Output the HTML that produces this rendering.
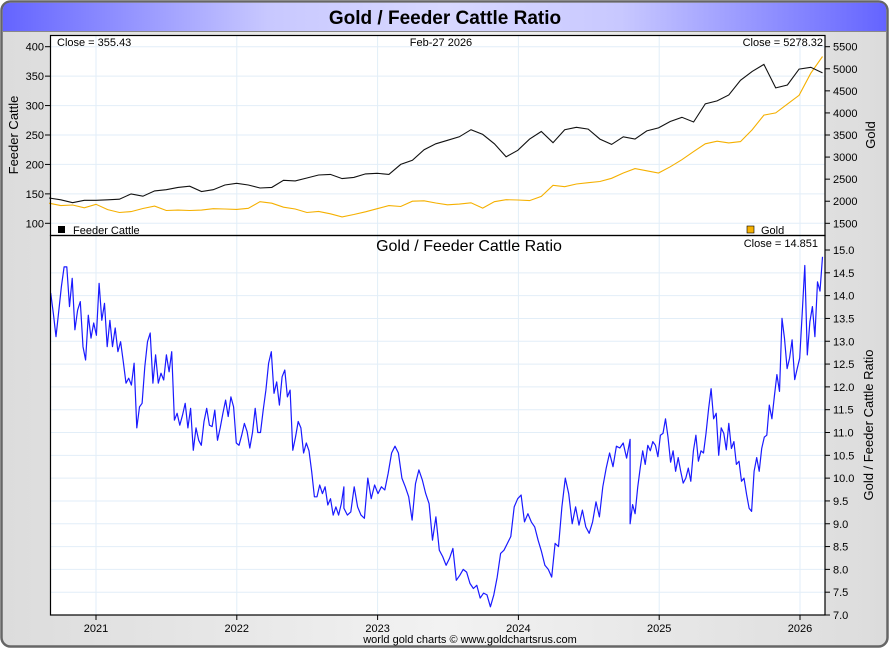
<!DOCTYPE html>
<html><head><meta charset="utf-8">
<style>
html,body{margin:0;padding:0;background:#fff;}
svg{display:block;font-family:"Liberation Sans",sans-serif;}
</style></head>
<body>
<svg id="chart" width="890" height="650" viewBox="0 0 890 650" xmlns="http://www.w3.org/2000/svg">
<defs>
<linearGradient id="bg" x1="0" x2="1" y1="0" y2="0">
<stop offset="0" stop-color="#dcdcdc"/><stop offset="0.5" stop-color="#f2f2f2"/><stop offset="1" stop-color="#dcdcdc"/>
</linearGradient>
<linearGradient id="tb" x1="0" x2="1" y1="0" y2="0">
<stop offset="0" stop-color="#6464ff"/><stop offset="0.3" stop-color="#c8c8ff"/><stop offset="0.5" stop-color="#d8d8ff"/><stop offset="0.7" stop-color="#c8c8ff"/><stop offset="1" stop-color="#6464ff"/>
</linearGradient>
</defs>
<rect x="1.5" y="1.5" width="886" height="645" rx="9" fill="url(#bg)" stroke="#666" stroke-width="2.5"/>
<path d="M2.8,31 L2.8,11 Q2.8,2.8 11,2.8 L879,2.8 Q886.2,2.8 886.2,11 L886.2,31 Z" fill="url(#tb)"/>
<line x1="2" y1="31.5" x2="887" y2="31.5" stroke="#888" stroke-width="1"/>
<text x="445" y="24" text-anchor="middle" font-size="19" font-weight="bold" fill="#000">Gold / Feeder Cattle Ratio</text>
<rect x="50.5" y="35.5" width="774.5" height="579.5" fill="#fff"/>
<g id="grid"></g>
<g id="series"></g>
<rect x="50.5" y="35.5" width="774.5" height="200" fill="none" stroke="#000" stroke-width="1.2"/>
<rect x="50.5" y="235.5" width="774.5" height="379.5" fill="none" stroke="#000" stroke-width="1.2"/>
<g id="axes"></g>
<text x="57" y="46" font-size="11">Close = 355.43</text>
<text x="441" y="46" font-size="11" text-anchor="middle">Feb-27  2026</text>
<text x="823" y="46" font-size="11" text-anchor="end">Close = 5278.32</text>
<rect x="58" y="226" width="7" height="7" fill="#000"/>
<text x="73" y="234" font-size="11">Feeder Cattle</text>
<rect x="747" y="226" width="7" height="7" fill="#f5b000" stroke="#000" stroke-width="0.6"/>
<text x="761" y="234" font-size="11">Gold</text>
<text x="469" y="251" font-size="16" text-anchor="middle">Gold  /  Feeder Cattle Ratio</text>
<text x="818" y="247" font-size="11" text-anchor="end">Close = 14.851</text>
<text transform="translate(18,135) rotate(-90)" font-size="13" text-anchor="middle">Feeder Cattle</text>
<text transform="translate(875,135) rotate(-90)" font-size="13" text-anchor="middle">Gold</text>
<text transform="translate(873,425) rotate(-90)" font-size="13" text-anchor="middle">Gold / Feeder Cattle Ratio</text>
<text x="470" y="643" font-size="11" text-anchor="middle" fill="#000">world gold charts © www.goldchartsrus.com</text>
</svg>
<script>
// monthly values starting Sep 2020 (last point = Feb-27 2026)
const cattleValues=[143,140,135,139,139,140,141,150,146,155,157,161,163,154,157,165,168,165,160,161,173,172,177,182,183,176,178,184,185,183,200,207,225,235,241,247,259,251,235,213,224,243,256,237,259,263,260,243,234,247,243,257,262,273,280,272,303,308,318,343,358,370,330,335,362,365,355.43];
const goldValues=[1955,1900,1915,1850,1930,1810,1745,1765,1835,1890,1790,1800,1790,1800,1830,1825,1815,1840,1990,1955,1865,1825,1745,1770,1715,1645,1700,1760,1830,1900,1880,2000,2010,1960,1920,1935,1965,1845,1990,2035,2028,2015,2110,2360,2330,2390,2420,2446,2520,2640,2740,2690,2640,2780,2940,3125,3300,3360,3320,3350,3620,3950,4000,4200,4400,4900,5278.32];
const topStartYear=2020.667, topEndYear=2026.16;
// ratio segments (evenly spaced within each date range)
const ratioSeg1Range=[2020.678,2022.761];
const ratioSeg1=[14.06,13.6,13.1,13.65,14.2,14.63,14.63,13.76,14.38,13.25,13.68,13.87,12.88,12.59,13.57,13.07,13.4,13.13,14.27,13.46,13.83,12.88,13.46,12.88,13.29,12.77,12.99,12.55,12.08,12.19,12.04,12.52,11.1,11.56,11.64,12.44,12.99,13.18,12.08,12.7,12.08,12.3,12.15,12.7,12.33,12.77,11.27,11.42,11.16,11.38,11.64,11.1,11.53,10.61,11.1,10.83,10.72,11.24,11.53,11.16,11.13,11.49,10.83,11.1,11.42,11.71,11.35,11.78,11.56,10.77,10.72,10.94,11.2,11.02,10.66,11.0,11.53,11.0,11.0,11.49,11.93,12.52,12.77,11.86,12.11,11.6,12.22,12.37,11.78,11.93,10.61,10.9,11.24,11.1,10.55,10.77,10.6,10.14,9.59,9.59,9.85,9.66,9.81,9.41,9.55,9.19,9.37,9.19,9.44,9.81];
const ratioSeg2Range=[2022.761,2024.793];
const ratioSeg2=[9.34,9.19,9.26,9.81,9.37,9.19,9.12,10.0,9.55,9.85,9.66,9.81,9.74,10.11,10.55,10.7,10.55,10.0,9.81,9.59,9.08,9.88,10.18,9.96,9.66,9.44,8.64,9.15,8.42,8.28,8.09,8.24,8.46,7.76,7.87,8.0,7.94,7.69,7.58,7.65,7.37,7.48,7.44,7.18,7.44,7.83,8.35,8.42,8.57,8.72,9.37,9.55,9.63,9.04,9.22,9.04,8.93,8.64,8.39,8.09,8.0,7.83,8.57,8.5,9.37,10.0,9.66,9.0,9.37,8.97,9.3,8.93,8.79,9.04,9.48,9.15,9.81,10.22,10.55,10.25,10.7,10.66,10.77,10.44,10.85];
const ratioSeg3Range=[2024.793,2026.16];
const ratioSeg3=[9.0,9.42,9.22,9.8,10.22,10.6,10.3,10.72,10.6,10.8,10.72,10.47,10.94,10.98,11.3,10.9,10.35,10.6,10.15,10.45,10.15,9.89,10.0,10.22,9.93,10.6,10.94,10.37,10.6,10.55,10.98,11.52,11.96,11.3,11.42,10.5,11.1,10.98,10.62,11.2,10.65,10.8,10.3,10.37,9.93,10.0,9.64,9.34,9.27,10.15,10.45,10.15,10.65,10.9,10.94,11.6,11.3,11.8,12.27,11.9,13.5,13.06,12.4,12.63,13.03,12.16,12.4,12.63,13.65,14.66,12.7,13.43,13.76,13.1,14.3,14.1,14.851];
const years=[2021,2022,2023,2024,2025,2026];
const cattleTicks=[100,150,200,250,300,350,400];
const goldTicks=[1500,2000,2500,3000,3500,4000,4500,5000,5500];
const ratioTicks=[7.0,7.5,8.0,8.5,9.0,9.5,10.0,10.5,11.0,11.5,12.0,12.5,13.0,13.5,14.0,14.5,15.0];

const NS='http://www.w3.org/2000/svg';
const X0=50.5, X1=825;
const xOf=y=>96+(y-2021)*140.8;
const yCattle=v=>46.7+(400-v)*(176.6/300);
const yGold=v=>46.7+(5500-v)*(176.6/4000);
const yRatio=v=>250+(15-v)*(365/8);
function mk(tag,attrs,parent){const e=document.createElementNS(NS,tag);for(const k in attrs)e.setAttribute(k,attrs[k]);parent.appendChild(e);return e;}
const grid=document.getElementById('grid'), series=document.getElementById('series'), axes=document.getElementById('axes');

years.forEach(yr=>{const x=xOf(yr);
 const g=mk('line',{x1:x,x2:x,y1:36,y2:615,stroke:'#e2eef8','stroke-width':1},grid);
 
 
 mk('line',{x1:x,x2:x,y1:615,y2:620,stroke:'#000'},axes);
 const t=mk('text',{x:x,y:632,'font-size':11,'text-anchor':'middle'},axes);t.textContent=yr;
 
 
});
cattleTicks.forEach(v=>{const y=yCattle(v);
 mk('line',{x1:X0,x2:X1,y1:y,y2:y,stroke:'#e2eef8'},grid);
 mk('line',{x1:45,x2:50,y1:y,y2:y,stroke:'#000'},axes);
 const t=mk('text',{x:44,y:y+4,'font-size':11,'text-anchor':'end'},axes);t.textContent=v;
 
 
});
goldTicks.forEach(v=>{const y=yGold(v);
 mk('line',{x1:825,x2:830,y1:y,y2:y,stroke:'#000'},axes);
 const t=mk('text',{x:833,y:y+4,'font-size':11},axes);t.textContent=v;
 
 
});
ratioTicks.forEach(v=>{const y=yRatio(v);
 if(v<15&&v>7) mk('line',{x1:X0,x2:X1,y1:y,y2:y,stroke:'#e2eef8'},grid);
 mk('line',{x1:825,x2:830,y1:y,y2:y,stroke:'#000'},axes);
 const t=mk('text',{x:833,y:y+4,'font-size':11},axes);t.textContent=v.toFixed(1);
 
 
});

function monthlyPath(vals,yf){const n=vals.length;return vals.map((v,i)=>{const yr=topStartYear+(topEndYear-topStartYear)*i/(n-1);return (i?'L':'M')+xOf(yr).toFixed(1)+','+yf(v).toFixed(1);}).join('');}
const gp=mk('path',{d:monthlyPath(goldValues,yGold),fill:'none',stroke:'#f5b000','stroke-width':1.1},series);


const cp=mk('path',{d:monthlyPath(cattleValues,yCattle),fill:'none',stroke:'#111','stroke-width':1.1},series);



let d='';
[[ratioSeg1,ratioSeg1Range],[ratioSeg2,ratioSeg2Range],[ratioSeg3,ratioSeg3Range]].forEach(([vals,r],si)=>{
 const n=vals.length;
 vals.forEach((v,i)=>{const yr=r[0]+(r[1]-r[0])*i/(n-1);d+=(d?'L':'M')+xOf(yr).toFixed(1)+','+yRatio(v).toFixed(1);});
});
const rp=mk('path',{d:d,fill:'none',stroke:'#1a1aff','stroke-width':1.2,'stroke-linejoin':'round'},series);


</script>
</body></html>
